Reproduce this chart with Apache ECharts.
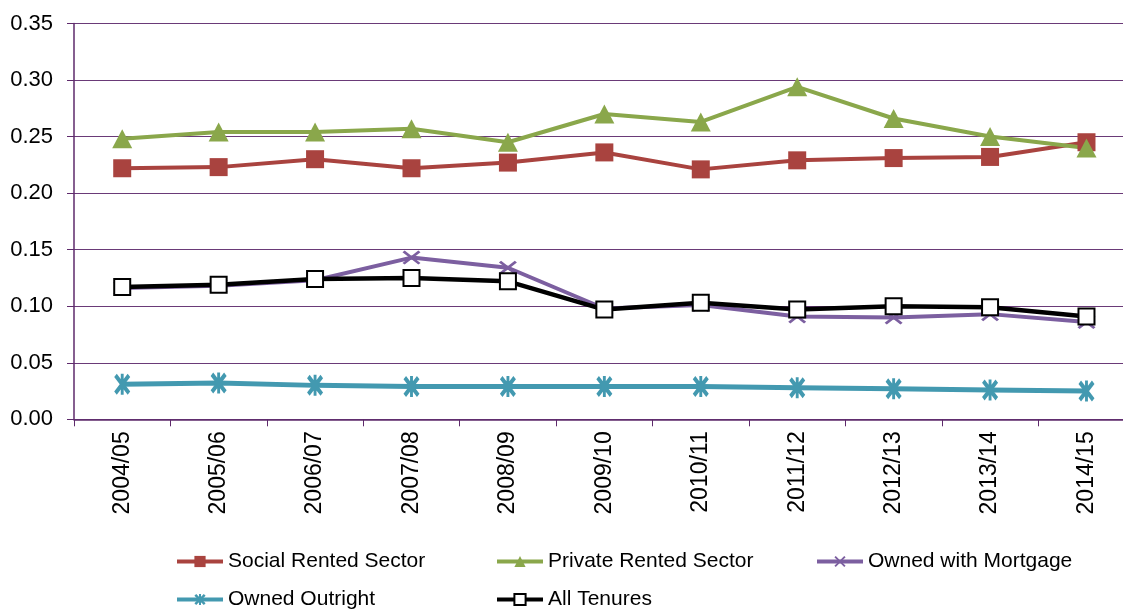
<!DOCTYPE html>
<html>
<head>
<meta charset="utf-8">
<script src="https://cdn.jsdelivr.net/npm/echarts@6/dist/echarts.min.js"></script>
<style>
html,body{margin:0;padding:0;background:#fff;overflow:hidden;width:1123px;height:610px;}
#chart{width:1140px;height:610px;}
</style>
</head>
<body>
<div id="chart"></div>
<script>
const categories = ['2004/05','2005/06','2006/07','2007/08','2008/09','2009/10','2010/11','2011/12','2012/13','2013/14','2014/15'];
const socialRented = [0.222, 0.223, 0.230, 0.222, 0.227, 0.236, 0.221, 0.229, 0.231, 0.232, 0.245];
const privateRented = [0.248, 0.254, 0.254, 0.257, 0.245, 0.270, 0.263, 0.294, 0.266, 0.250, 0.240];
const ownedMortgage = [0.116, 0.118, 0.123, 0.143, 0.134, 0.098, 0.101, 0.091, 0.090, 0.093, 0.086];
const ownedOutright = [0.031, 0.032, 0.030, 0.029, 0.029, 0.029, 0.029, 0.028, 0.027, 0.026, 0.025];
const allTenures = [0.117, 0.119, 0.124, 0.125, 0.122, 0.097, 0.103, 0.097, 0.100, 0.099, 0.091];
const seriesNames = ['Social Rented Sector','Private Rented Sector','Owned with Mortgage','Owned Outright','All Tenures'];

const FONT = "'Liberation Sans', Arial, sans-serif";
const AXIS_COLOR = '#5E2A6B';
const crossPath = 'path://M0,1.2 L1.2,0 L10,8.8 L8.8,10 Z M8.8,0 L10,1.2 L1.2,10 L0,8.8 Z';
const starPath = 'path://M0,1.6 L1.6,0 L10,8.4 L8.4,10 Z M8.4,0 L10,1.6 L1.6,10 L0,8.4 Z M4.1,0 L5.9,0 L5.9,10 L4.1,10 Z';

const chart = echarts.init(document.getElementById('chart'));

function legendAt(name, left, top) {
  return {
    data: [name], left: left, top: top, orient: 'horizontal',
    itemWidth: 46, itemHeight: 14, padding: 0,
    lineStyle: {width: 4},
    textStyle: {fontFamily: FONT, fontSize: 21, color: '#000'}
  };
}

const option = {
  animation: false,
  backgroundColor: '#fff',
  grid: {left: 74, top: 23.5, width: 1060.7, height: 395.8, containLabel: false},
  legend: [
    legendAt(seriesNames[0], 175, 551),
    legendAt(seriesNames[1], 495, 551),
    legendAt(seriesNames[2], 815, 551),
    legendAt(seriesNames[3], 175, 589),
    legendAt(seriesNames[4], 495, 589)
  ],
  xAxis: {
    type: 'category', data: categories, boundaryGap: true,
    axisLine: {show: true, lineStyle: {color: AXIS_COLOR, width: 1.5}},
    axisTick: {show: true, length: 7, alignWithLabel: false, lineStyle: {color: AXIS_COLOR}},
    axisLabel: {rotate: 90, margin: 12, fontSize: 23, fontFamily: FONT, color: '#000', interval: 0},
    splitLine: {show: false}
  },
  yAxis: {
    type: 'value', min: 0, max: 0.35, interval: 0.05,
    axisLine: {show: true, lineStyle: {color: AXIS_COLOR, width: 1.5}},
    axisTick: {show: true, length: 7, lineStyle: {color: AXIS_COLOR}},
    axisLabel: {margin: 21, fontSize: 22, fontFamily: FONT, color: '#000', formatter: v => v.toFixed(2)},
    splitLine: {show: true, lineStyle: {color: '#6A3A78', width: 1.2}}
  },
  series: [
    {name: seriesNames[0], type: 'line', data: socialRented, symbol: 'rect', symbolSize: 18,
     lineStyle: {color: '#A9433F', width: 4}, itemStyle: {color: '#A9433F'}},
    {name: seriesNames[1], type: 'line', data: privateRented, symbol: 'triangle', symbolSize: [20, 19],
     lineStyle: {color: '#8AA74B', width: 4}, itemStyle: {color: '#8AA74B'}},
    {name: seriesNames[2], type: 'line', data: ownedMortgage, symbol: crossPath, symbolSize: [18, 14],
     lineStyle: {color: '#7C5FA0', width: 4}, itemStyle: {color: '#7C5FA0'}},
    {name: seriesNames[3], type: 'line', data: ownedOutright, symbol: starPath, symbolSize: [16, 21],
     lineStyle: {color: '#4399B0', width: 5}, itemStyle: {color: '#4399B0'}},
    {name: seriesNames[4], type: 'line', data: allTenures, symbol: 'rect', symbolSize: 16,
     lineStyle: {color: '#000', width: 4.5}, itemStyle: {color: '#fff', borderColor: '#000', borderWidth: 2}}
  ]
};
chart.setOption(option);
</script>
</body>
</html>
